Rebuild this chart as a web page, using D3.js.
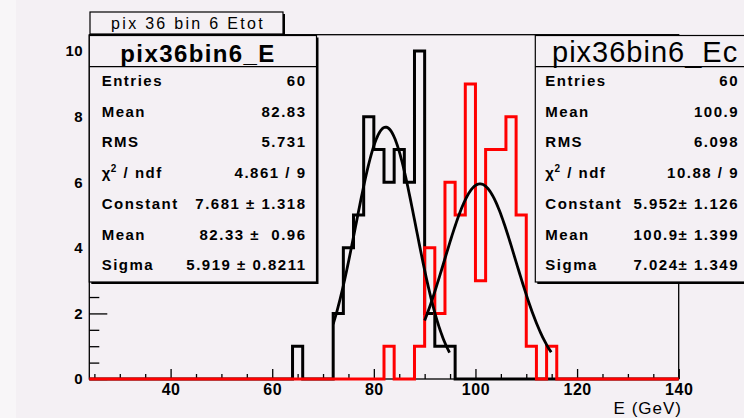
<!DOCTYPE html>
<html>
<head>
<meta charset="utf-8">
<script src="https://cdn.jsdelivr.net/npm/d3@7"></script>
<style>
  html, body { margin: 0; padding: 0; background: #f4f0f4; }
  svg { display: block; }
  text { font-family: "Liberation Sans", Arial, Helvetica, sans-serif; fill: #000; }
</style>
</head>
<body>
<svg id="chart" width="744" height="418"></svg>
<script>
// Histogram binning: 58 bins of 2 GeV from 24 to 140 GeV
const xMin = 24, xMax = 140, binWidth = 2;

// pix36bin6_E (black): entries per bin
const countsE = [
  0, 0, 0, 0, 0, 0, 0, 0, 0, 0,
  0, 0, 0, 0, 0, 0, 0, 0, 0, 0,
  1, 0, 0, 0, 2, 4, 5, 8, 7, 6,
  7, 6, 10, 2, 1, 1, 0, 0, 0, 0,
  0, 0, 0, 0, 0, 0, 0, 0, 0, 0,
  0, 0, 0, 0, 0, 0, 0, 0
];

// pix36bin6_Ec (red): entries per bin
const countsEc = [
  0, 0, 0, 0, 0, 0, 0, 0, 0, 0,
  0, 0, 0, 0, 0, 0, 0, 0, 0, 0,
  0, 0, 0, 0, 0, 0, 0, 0, 0, 1,
  0, 0, 1, 4, 2, 6, 5, 9, 3, 7,
  7, 8, 5, 1, 0, 1, 0, 0, 0, 0,
  0, 0, 0, 0, 0, 0, 0, 0
];

// Gaussian fit results: [constant, mean, sigma] and fitted range
const fitE = [7.681, 82.33, 5.919];
const fitRangeE = [72.0, 94.9];
const fitEc = [5.952, 100.9, 7.024];
const fitRangeEc = [90.0, 114.9];

// Axis ticks
const xMajorTicks = [40, 60, 80, 100, 120, 140];
const yMajorTicks = [0, 2, 4, 6, 8, 10];
const yMax = 10.5;

// Statistics box contents
const statLabels = ["Entries", "Mean", "RMS", "chi2ndf", "Constant", "Mean", "Sigma"];
const statValuesE = ["60", "82.83", "5.731", "4.861 / 9", "7.681 \u00b1 1.318", "82.33 \u00b1  0.96", "5.919 \u00b1 0.8211"];
const statValuesEc = ["60", "100.9", "6.098", "10.88 / 9", "5.952\u00b1 1.126", "100.9\u00b1 1.399", "7.024\u00b1 1.349"];

const bg = "#f4f0f4";
const svg = d3.select("#chart");

// page background with a slightly lighter left margin strip
svg.append("rect").attr("width", 744).attr("height", 418).attr("fill", bg);
svg.append("rect").attr("width", 16).attr("height", 418).attr("fill", "#f8f6f8");

const frame = { left: 89.3, right: 678.7, top: 34.7, bottom: 379 };
const x = d3.scaleLinear().domain([xMin, xMax]).range([frame.left, frame.right]);
const y = d3.scaleLinear().domain([0, yMax]).range([frame.bottom, frame.top]);

// frame
svg.append("rect")
  .attr("x", frame.left).attr("y", frame.top)
  .attr("width", frame.right - frame.left).attr("height", frame.bottom - frame.top)
  .attr("fill", "none").attr("stroke", "#000").attr("stroke-width", 1.3);

// y axis: major and minor ticks pointing inward
const yAxis = d3.axisLeft(y).tickValues(yMajorTicks).tickSize(-18).tickPadding(6).tickFormat(d3.format("d"));
const gy = svg.append("g").attr("transform", `translate(${frame.left},0)`).call(yAxis);
gy.select(".domain").remove();
gy.selectAll("line").attr("stroke-width", 1.3);
gy.selectAll("text").attr("font-size", 15).attr("font-weight", "bold").attr("letter-spacing", 0.6)
  .attr("font-family", "Liberation Sans, Arial, sans-serif");

const yMinor = d3.range(0, 10.01, 0.5).filter(v => !yMajorTicks.includes(v));
const gy2 = svg.append("g").attr("transform", `translate(${frame.left},0)`)
  .call(d3.axisLeft(y).tickValues(yMinor).tickSize(-10).tickFormat(""));
gy2.select(".domain").remove();
gy2.selectAll("line").attr("stroke-width", 1.3);

// x axis: ticks pointing up into the frame
const xAxis = d3.axisBottom(x).tickValues(xMajorTicks).tickSize(-10).tickPadding(5).tickFormat(d3.format("d"));
const gx = svg.append("g").attr("transform", `translate(0,${frame.bottom})`).call(xAxis);
gx.select(".domain").remove();
gx.selectAll("line").attr("stroke-width", 1.3);
gx.selectAll("text").attr("font-size", 16).attr("font-weight", "bold").attr("letter-spacing", 0.5)
  .attr("font-family", "Liberation Sans, Arial, sans-serif");

const xMinor = d3.range(25, 140, 5).filter(v => !xMajorTicks.includes(v));
const gx2 = svg.append("g").attr("transform", `translate(0,${frame.bottom})`)
  .call(d3.axisBottom(x).tickValues(xMinor).tickSize(-5).tickFormat(""));
gx2.select(".domain").remove();
gx2.selectAll("line").attr("stroke-width", 1.3);

// x axis title
svg.append("text").attr("x", 682).attr("y", 414).attr("text-anchor", "end")
  .attr("font-size", 17).attr("letter-spacing", 1).text("E (GeV)");

// histogram outlines as step lines
function stepPoints(counts) {
  const pts = counts.map((c, i) => [xMin + i * binWidth, c]);
  pts.push([xMax, counts[counts.length - 1]]);
  return pts;
}
const stepLine = d3.line().x(d => x(d[0])).y(d => y(d[1])).curve(d3.curveStepAfter);

svg.append("path").datum(stepPoints(countsE))
  .attr("d", stepLine).attr("fill", "none").attr("stroke", "#000").attr("stroke-width", 3)
  .attr("stroke-linejoin", "miter");
svg.append("path").datum(stepPoints(countsEc))
  .attr("d", stepLine).attr("fill", "none").attr("stroke", "#ff0000").attr("stroke-width", 3)
  .attr("stroke-linejoin", "miter");

// Gaussian fit curves
function gaussPoints(p, range) {
  const n = 120;
  return d3.range(n + 1).map(i => {
    const t = range[0] + (range[1] - range[0]) * i / n;
    return [t, p[0] * Math.exp(-0.5 * Math.pow((t - p[1]) / p[2], 2))];
  });
}
const smoothLine = d3.line().x(d => x(d[0])).y(d => y(d[1]));
[[fitE, fitRangeE], [fitEc, fitRangeEc]].forEach(([p, r]) => {
  svg.append("path").datum(gaussPoints(p, r))
    .attr("d", smoothLine).attr("fill", "none").attr("stroke", "#000").attr("stroke-width", 2.8);
});

// statistics boxes
function statBox(x0, x1, title, values, labelX, valueX) {
  const top = 35.5, sep = 66.7, bottom = 282;
  const g = svg.append("g");
  // shadow
  g.append("rect").attr("x", x0 + 2).attr("y", top + 2).attr("width", x1 - x0).attr("height", bottom - top)
    .attr("fill", "#000");
  g.append("rect").attr("x", x0).attr("y", top).attr("width", x1 - x0).attr("height", bottom - top)
    .attr("fill", bg).attr("stroke", "#000").attr("stroke-width", 1.2);
  g.append("line").attr("x1", x0).attr("x2", x1).attr("y1", sep).attr("y2", sep)
    .attr("stroke", "#000").attr("stroke-width", 1.2);
  g.append("text").attr("x", title.x).attr("y", title.y).attr("text-anchor", title.anchor)
    .attr("font-size", title.size).attr("font-weight", title.weight)
    .attr("letter-spacing", title.spacing).text(title.text);
  statLabels.forEach((lab, i) => {
    const cy = 80.5 + 30.7 * i;
    const t = g.append("text").attr("x", labelX).attr("y", cy + 5.5)
      .attr("font-size", 15).attr("font-weight", "bold").attr("letter-spacing", 1.5);
    if (lab === "chi2ndf") {
      t.append("tspan").text("\u03c7");
      t.append("tspan").attr("font-size", 10).attr("dy", -6).attr("dx", -1).text("2");
      t.append("tspan").attr("dy", 6).text(" / ndf");
    } else {
      t.text(lab);
    }
    g.append("text").attr("x", valueX).attr("y", cy + 5.5).attr("text-anchor", "end")
      .attr("font-size", 15).attr("font-weight", "bold").attr("letter-spacing", 1.5)
      .attr("xml:space", "preserve").style("white-space", "pre").text(values[i]);
  });
}
statBox(89.3, 316.5,
  { text: "pix36bin6_E", x: 198, y: 61.5, anchor: "middle", size: 24, weight: "bold", spacing: 1.4 },
  statValuesE, 101.7, 306.5);
statBox(535.3, 770,
  { text: "pix36bin6_Ec", x: 552, y: 62, anchor: "start", size: 29, weight: "normal", spacing: 1 },
  statValuesEc, 545.3, 739);

// histogram title box
svg.append("rect").attr("x", 92).attr("y", 14).attr("width", 193).attr("height", 22).attr("fill", "#000");
svg.append("rect").attr("x", 90).attr("y", 12).attr("width", 193).attr("height", 22)
  .attr("fill", bg).attr("stroke", "#000").attr("stroke-width", 1.2);
svg.append("text").attr("x", 188).attr("y", 29).attr("text-anchor", "middle")
  .attr("font-size", 16).attr("letter-spacing", 2.3).text("pix 36 bin 6 Etot");
</script>
</body>
</html>
